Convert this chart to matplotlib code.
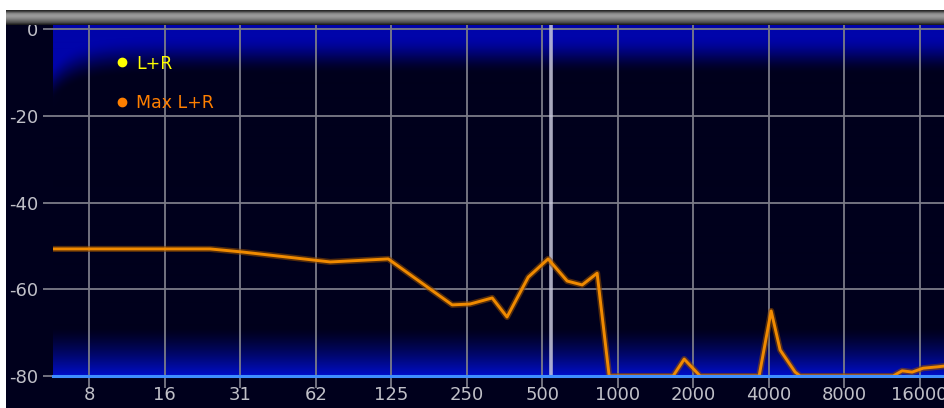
import numpy as np
import matplotlib.pyplot as plt
from matplotlib.lines import Line2D
from matplotlib.patches import Rectangle

# spectrum data (Hz, dB)
freqs = [5.6, 23.7, 31.8, 71.4, 121.6, 218.8, 258, 316, 362, 440, 528, 629, 722, 828,
         925, 1664, 1842, 2133, 3665, 4093, 4445, 5102, 5340, 12547, 13626, 14937,
         16523, 18790, 20200]
max_lr = [-50.7, -50.7, -51.4, -53.7, -53.0, -63.6, -63.4, -62.0, -66.4, -57.2, -53.0,
          -58.1, -59.0, -56.3, -80.0, -80.0, -76.1, -80.0, -80.0, -65.0, -74.0, -79.1,
          -80.0, -80.0, -78.8, -79.1, -78.2, -77.9, -77.7]

xtick_pos = [7.8125, 15.625, 31.25, 62.5, 125, 250, 500, 1000, 2000, 4000, 8000, 16000]
xtick_labels = ['8', '16', '31', '62', '125', '250', '500', '1000', '2000', '4000', '8000', '16000']
ytick_pos = [0, -20, -40, -60, -80]
ytick_labels = ['0', '-20', '-40', '-60', '-80']
cursor_freq = 540

W, H = 945, 408
fig = plt.figure(figsize=(W / 100, H / 100), dpi=100, facecolor='white')

# dark panel behind everything
fig.add_artist(Rectangle((6 / W, 0), 1, (H - 24) / H, transform=fig.transFigure,
                         facecolor='#00001c', edgecolor='none', zorder=-10))

# title bar strip
bar = fig.add_axes([6 / W, 1 - 25 / H, (W - 6) / W, 15 / H])
shade = np.array([40, 70, 110, 140, 150, 155, 150, 140, 125, 110, 95, 80, 55, 30]) / 255
bar.imshow(np.repeat(shade[:, None], 3, axis=1)[:, None, :], aspect='auto',
           interpolation='bilinear')
bar.axis('off')

rect = [53 / W, 1 - 376 / H, (W - 53) / W, 353 / H]

# blue gradient backdrop
bg = fig.add_axes(rect, zorder=0)
nr, nc = 353, 892
r = np.arange(nr)[:, None].astype(float)
c = np.arange(nc)[None, :].astype(float)
top_end = 52 + 25 * np.exp(-c / 25)
it = np.clip((top_end - r) / 38, 0, 1)
it = it * it * (3 - 2 * it)
ib = np.clip(1 - (nr - 1 - r) / 47, 0, 1) ** 1.3
inten_top = np.clip(it + 0.12 * np.exp(-c / 6) * np.clip(1 - r / 90, 0, 1), 0, 1)
img = np.zeros((nr, nc, 3))
img[..., 1] = (4 * inten_top + 14 * ib) / 255
img[..., 2] = np.clip(28 + 142 * inten_top + 172 * ib, 0, 255) / 255
bg.imshow(img, aspect='auto', interpolation='bilinear')
bg.axis('off')

ax = fig.add_axes(rect, zorder=1)
ax.set_facecolor('none')
ax.set_xscale('log', base=2)
ax.set_xlim(5.6, 20200)
ax.set_ylim(-80, 1.4)

ax.set_xticks(xtick_pos)
ax.set_xticklabels(xtick_labels)
ax.set_yticks(ytick_pos)
ax.set_yticklabels(ytick_labels)
ax.minorticks_off()
ax.grid(True, color='#7c7c88', lw=1.3)
ax.tick_params(axis='x', colors='#7c7c88', length=8.5, width=1.3, pad=-1,
               labelcolor='#c0c0c8', labelsize=13)
ax.tick_params(axis='y', colors='#7c7c88', length=7.2, width=1.3, pad=3.5,
               labelcolor='#c0c0c8', labelsize=13)
for s in ax.spines.values():
    s.set_visible(False)

ax.axvline(cursor_freq, color='#c8c8dc', lw=2.6, alpha=0.85, zorder=2)

ax.plot(freqs, max_lr, color='#8a4800', lw=4.4, alpha=0.6, zorder=3, solid_joinstyle='round')
ax.plot(freqs, max_lr, color='#f08a00', lw=2.1, zorder=3, solid_joinstyle='round')

ax.axhline(-80, color='#3f8fff', lw=2.2, zorder=4, clip_on=False)

handles = [Line2D([], [], ls='none', marker='o', ms=6, color='#ffff00'),
           Line2D([], [], ls='none', marker='o', ms=6, color='#ff7f00')]
leg = ax.legend(handles, ['L+R', 'Max L+R'], loc='upper left', frameon=False,
                bbox_to_anchor=(0.054, 0.955), fontsize=12.5, handlelength=0.6,
                handletextpad=0.5, labelspacing=1.25, labelcolor=['#ffff00', '#ff7f00'])

# title bar drawn above the axes so it covers the top label
bar.set_zorder(5)

fig.savefig('out.png', dpi=100, facecolor='white')
